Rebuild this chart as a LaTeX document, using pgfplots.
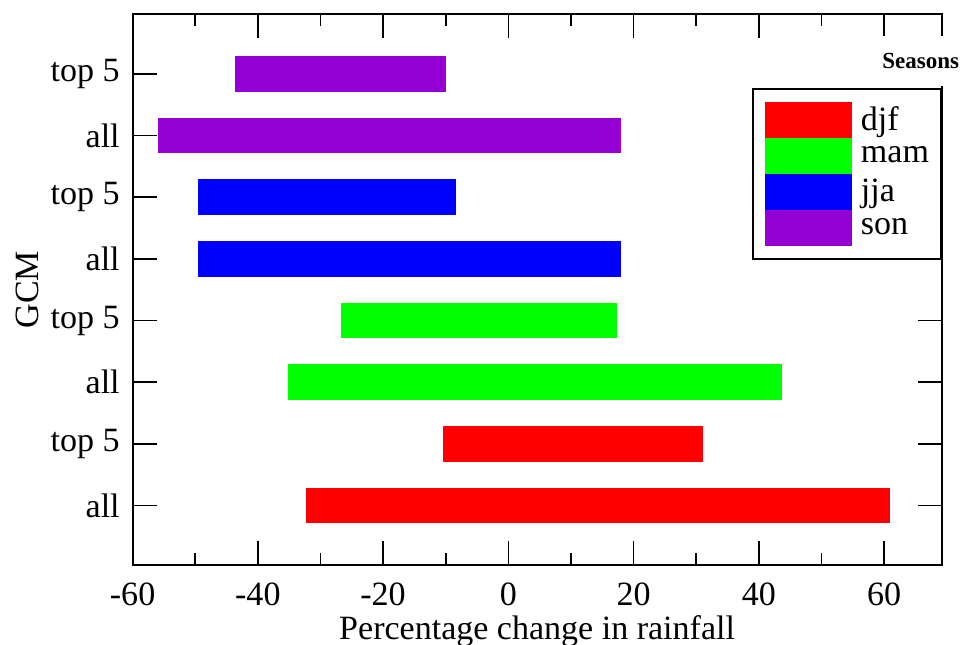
\documentclass[border=0pt]{standalone}
\usepackage{fontspec}
\setmainfont{Liberation Serif}
\usepackage{pgfplots}
\pgfplotsset{compat=1.18}
\definecolor{djf}{RGB}{255,0,0}
\definecolor{mam}{RGB}{0,255,0}
\definecolor{jja}{RGB}{0,0,255}
\definecolor{son}{RGB}{148,0,211}
\newcommand{\bigfont}{\fontsize{17}{20}\selectfont}

\begin{document}
\begin{tikzpicture}
\begin{axis}[
  scale only axis,
  width=404.25pt, height=275.5pt,
  xmin=-60, xmax=69.2,
  ymin=-0.97, ymax=7.97,
  axis line style={line width=1pt},
  tick style={line width=0.8pt, black},
  major tick length=12pt, minor tick length=6pt,
  tick align=inside,
  xtick={-60,-40,-20,0,20,40,60},
  xticklabels={-60,-40,-20,0,20,40,60},
  minor x tick num=1,
  ytick={0,1,2,3,4,5,6,7},
  yticklabels={all,top 5,all,top 5,all,top 5,all,top 5},
  ytick style={draw=black},
  tick label style={font=\bigfont},
  xticklabel style={anchor=base, yshift=-20pt},
  yticklabel style={anchor=east, inner sep=0pt, xshift=-6.25pt},
  xlabel={Percentage change in rainfall},
  xlabel style={at={(axis description cs:0.5,0)}, anchor=base, yshift=-37.25pt, font=\bigfont},
  ylabel={GCM},
  ylabel style={at={(axis description cs:-0.1299,0.5)}, anchor=center, font=\bigfont},
  legend image code/.code={\fill[#1] (0pt,-9pt) rectangle (43.7pt,9pt);},
  legend cell align=left,
  legend style={at={(axis description cs:1,0.865)}, anchor=north east,
    draw=black, line width=1pt, fill=white,
    inner xsep=5.85pt, inner ysep=6.25pt, row sep=0pt, column sep=4.35pt,
    nodes={inner sep=0pt, font=\bigfont}},
]
% djf
\addplot[fill=djf, draw=none] coordinates {(-32.3,-0.29) (61.0,-0.29) (61.0,0.29) (-32.3,0.29)};
\addlegendentry{djf}
\addplot[fill=djf, draw=none, forget plot] coordinates {(-10.5,0.71) (31.05,0.71) (31.05,1.29) (-10.5,1.29)};
% mam
\addplot[fill=mam, draw=none] coordinates {(-35.2,1.71) (43.7,1.71) (43.7,2.29) (-35.2,2.29)};
\addlegendentry{mam}
\addplot[fill=mam, draw=none, forget plot] coordinates {(-26.75,2.71) (17.4,2.71) (17.4,3.29) (-26.75,3.29)};
% jja
\addplot[fill=jja, draw=none] coordinates {(-49.5,3.71) (18.05,3.71) (18.05,4.29) (-49.5,4.29)};
\addlegendentry{jja}
\addplot[fill=jja, draw=none, forget plot] coordinates {(-49.5,4.71) (-8.3,4.71) (-8.3,5.29) (-49.5,5.29)};
% son
\addplot[fill=son, draw=none] coordinates {(-56.0,5.71) (18.05,5.71) (18.05,6.29) (-56.0,6.29)};
\addlegendentry{son}
\addplot[fill=son, draw=none, forget plot] coordinates {(-43.6,6.71) (-9.9,6.71) (-9.9,7.29) (-43.6,7.29)};
\end{axis}
\node[fill=white, inner xsep=2pt, minimum height=25pt,
  font=\bfseries\fontsize{11.5}{13}\selectfont] at (393.75pt,252pt) {Seasons};
\pgfresetboundingbox
\path[use as bounding box] (-66.25pt,-39.5pt) rectangle (413.4pt,282.5pt);
\end{tikzpicture}
\end{document}
